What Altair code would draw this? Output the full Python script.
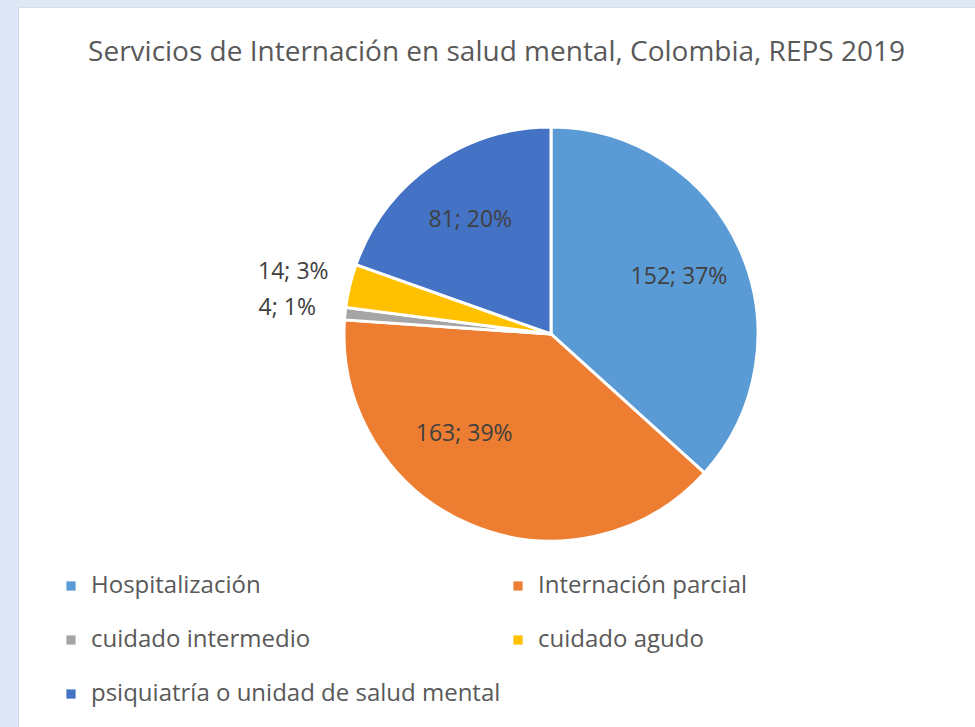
import altair as alt
import pandas as pd

categories = ["Hospitalización", "Internación parcial", "cuidado intermedio",
              "cuidado agudo", "psiquiatría o unidad de salud mental"]
values = [152, 163, 4, 14, 81]
percents = [37, 39, 1, 3, 20]
colors = ["#5B9BD5", "#ED7D31", "#A5A5A5", "#FFC000", "#4472C4"]
# label placement as in the original: "in" inside slice, "out" outside, "shift" inside, moved toward the left
label_place = ["in", "shift", "out", "out", "in"]

df = pd.DataFrame({
    "idx": list(range(len(categories))),
    "category": categories,
    "value": values,
})
labels = [f"{v}; {p}%" for v, p in zip(values, percents)]
for place in ["in", "shift", "out"]:
    df["label_" + place] = [l if pl == place else "" for l, pl in zip(labels, label_place)]

CX, CY = 533, 327
FONT = "Open Sans"

base = alt.Chart(df).encode(
    theta=alt.Theta("value:Q", stack=True),
    order=alt.Order("idx:Q"),
    x=alt.value(CX),
    y=alt.value(CY),
)

pie = base.mark_arc(outerRadius=207, stroke="white", strokeWidth=3).encode(
    color=alt.Color(
        "category:N",
        scale=alt.Scale(domain=categories, range=colors),
        sort=categories,
        legend=alt.Legend(
            orient="none", legendX=41, legendY=567, columns=2, columnPadding=5,
            direction="horizontal",
            symbolType="square", symbolSize=85, symbolStrokeWidth=0,
            labelFontSize=24, labelFont=FONT, labelColor="#595959",
            labelLimit=700, labelOffset=8, rowPadding=30, title=None,
        ),
    )
)

txt_in = base.mark_text(radius=140, fontSize=23, font=FONT, color="#404040").encode(
    text="label_in:N"
)
txt_shift = base.mark_text(radius=140, fontSize=23, font=FONT, color="#404040",
                           dx=-32, dy=-29).encode(text="label_shift:N")
txt_out = base.mark_text(radius=265, fontSize=23, font=FONT, color="#404040").encode(
    text="label_out:N"
)

chart = alt.layer(pie, txt_in, txt_shift, txt_out).properties(
    width=957,
    height=720,
    padding={"left": 18, "top": 7, "right": 0, "bottom": 0},
    autosize=alt.AutoSizeParams(type="none"),
    background="#DDE7F6",
    title=alt.TitleParams(
        "Servicios de Internación en salud mental, Colombia, REPS 2019",
        fontSize=28, font=FONT, fontWeight="normal", color="#595959",
        anchor="middle", orient="top", offset=-60,
    ),
).configure_view(fill="white", stroke="#D4DCE8", strokeWidth=1)

chart.save("out.html", embed_options={"renderer": "svg", "actions": False})
